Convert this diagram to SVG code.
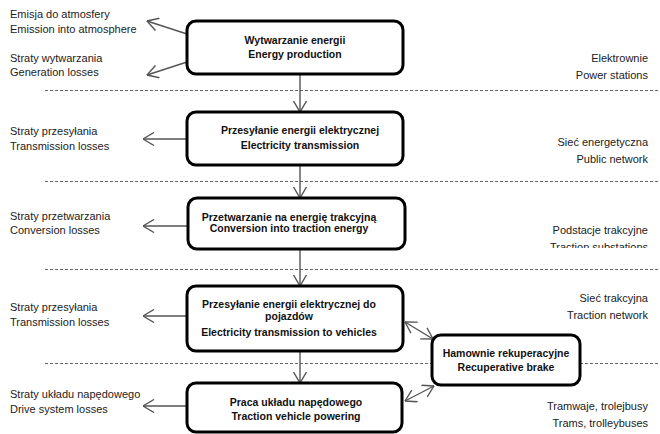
<svg xmlns="http://www.w3.org/2000/svg" width="660" height="434" viewBox="0 0 660 434">
<style>
.lbl{font-family:"Liberation Sans",Arial,sans-serif;font-size:11px;fill:#222}
.r{text-anchor:end}
.bt{font-family:"Liberation Sans",Arial,sans-serif;font-size:10.5px;font-weight:bold;fill:#111;text-anchor:middle}
.box{fill:#fff;stroke:#000;stroke-width:3}
.con{stroke:#555;stroke-width:1.4;fill:none}
.dash{stroke:#666;stroke-width:1;stroke-dasharray:3 2;fill:none}
</style>
<defs>
<marker id="ah" viewBox="0 0 12 14" refX="11.5" refY="7" markerWidth="12" markerHeight="14" markerUnits="userSpaceOnUse" orient="auto-start-reverse">
<path d="M0.5,0.5 L11.5,7 L0.5,13.5" fill="none" stroke="#555" stroke-width="1.4"/>
</marker>
<clipPath id="clipTS"><rect x="500" y="236" width="160" height="12"/></clipPath>
</defs>
<g id="separators">
<line class="dash" x1="45" y1="90.5" x2="660" y2="90.5"/>
<line class="dash" x1="45" y1="181.5" x2="660" y2="181.5"/>
<line class="dash" x1="45" y1="269.5" x2="660" y2="269.5"/>
<line class="dash" x1="45" y1="363.5" x2="660" y2="363.5"/>
</g>
<g id="connectors">
<line class="con" x1="300" y1="74" x2="300" y2="112" marker-end="url(#ah)"/>
<line class="con" x1="300" y1="165" x2="300" y2="198" marker-end="url(#ah)"/>
<line class="con" x1="300" y1="249" x2="300" y2="286" marker-end="url(#ah)"/>
<line class="con" x1="300" y1="351" x2="300" y2="383" marker-end="url(#ah)"/>
<line class="con" x1="187" y1="34" x2="147" y2="21" marker-end="url(#ah)"/>
<line class="con" x1="187" y1="62" x2="147" y2="75" marker-end="url(#ah)"/>
<line class="con" x1="187" y1="139" x2="143" y2="139" marker-end="url(#ah)"/>
<line class="con" x1="187" y1="226" x2="143" y2="226" marker-end="url(#ah)"/>
<line class="con" x1="187" y1="316" x2="143" y2="316" marker-end="url(#ah)"/>
<line class="con" x1="187" y1="406" x2="143" y2="406" marker-end="url(#ah)"/>
<line class="con" x1="405" y1="322" x2="433" y2="339" marker-start="url(#ah)" marker-end="url(#ah)"/>
<line class="con" x1="434" y1="386" x2="405" y2="401" marker-start="url(#ah)" marker-end="url(#ah)"/>
</g>
<g id="n1">
<rect class="box" x="187" y="21" width="216" height="53" rx="9"/>
<text class="bt" x="295" y="44">Wytwarzanie energii</text>
<text class="bt" x="295" y="58">Energy production</text>
</g>
<g id="n2">
<rect class="box" x="187" y="112" width="216" height="53" rx="9"/>
<text class="bt" x="300" y="134">Przesyłanie energii elektrycznej</text>
<text class="bt" x="300" y="149">Electricity transmission</text>
</g>
<g id="n3">
<rect class="box" x="188" y="198" width="217" height="51" rx="9"/>
<text class="bt" x="289" y="221">Przetwarzanie na energię trakcyjną</text>
<text class="bt" x="289" y="232">Conversion into traction energy</text>
</g>
<g id="n4">
<rect class="box" x="187" y="286" width="216" height="65" rx="9"/>
<text class="bt" x="289" y="308">Przesyłanie energii elektrycznej do</text>
<text class="bt" x="289" y="320">pojazdów</text>
<text class="bt" x="289" y="336">Electricity transmission to vehicles</text>
</g>
<g id="n5">
<rect class="box" x="187" y="383" width="215" height="49" rx="9"/>
<text class="bt" x="296" y="406">Praca układu napędowego</text>
<text class="bt" x="296" y="420">Traction vehicle powering</text>
</g>
<g id="n6">
<rect class="box" x="432" y="335" width="148" height="50" rx="9"/>
<text class="bt" x="506" y="357">Hamownie rekuperacyjne</text>
<text class="bt" x="506" y="371">Recuperative brake</text>
</g>
<g id="left-labels">
<text class="lbl" x="10" y="18">Emisja do atmosfery</text>
<text class="lbl" x="10" y="33">Emission into atmosphere</text>
<text class="lbl" x="10" y="62">Straty wytwarzania</text>
<text class="lbl" x="10" y="76">Generation losses</text>
<text class="lbl" x="10" y="135">Straty przesyłania</text>
<text class="lbl" x="10" y="150">Transmission losses</text>
<text class="lbl" x="10" y="220">Straty przetwarzania</text>
<text class="lbl" x="10" y="234">Conversion losses</text>
<text class="lbl" x="10" y="311">Straty przesyłania</text>
<text class="lbl" x="10" y="326">Transmission losses</text>
<text class="lbl" x="10" y="398">Straty układu napędowego</text>
<text class="lbl" x="10" y="413">Drive system losses</text>
</g>
<g id="right-labels">
<text class="lbl r" x="648" y="62">Elektrownie</text>
<text class="lbl r" x="648" y="79">Power stations</text>
<text class="lbl r" x="648" y="146">Sieć energetyczna</text>
<text class="lbl r" x="648" y="163">Public network</text>
<text class="lbl r" x="648" y="234">Podstacje trakcyjne</text>
<text class="lbl r" x="648" y="251" clip-path="url(#clipTS)">Traction substations</text>
<text class="lbl r" x="648" y="302">Sieć trakcyjna</text>
<text class="lbl r" x="648" y="319">Traction network</text>
<text class="lbl r" x="648" y="410">Tramwaje, trolejbusy</text>
<text class="lbl r" x="648" y="427">Trams, trolleybuses</text>
</g>
</svg>
